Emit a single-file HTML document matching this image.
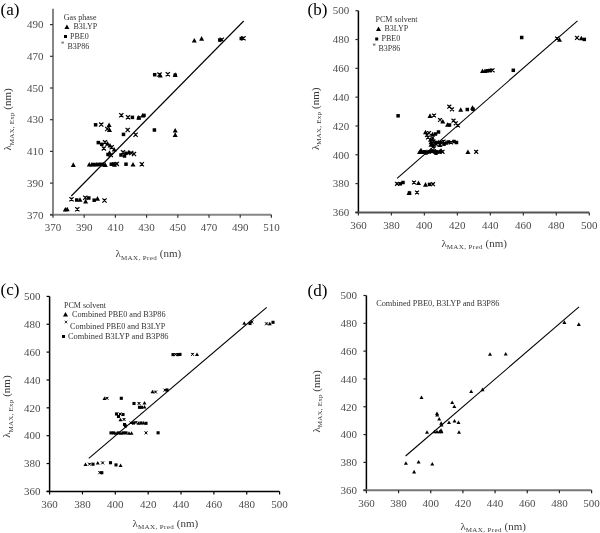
<!DOCTYPE html>
<html><head><meta charset="utf-8"><style>
html,body{margin:0;padding:0;background:#fff;}
body{width:600px;height:533px;overflow:hidden;}
svg{display:block;font-family:"Liberation Serif", serif;filter:grayscale(1) blur(0.3px);}
</style></head><body>
<svg width="600" height="533" viewBox="0 0 600 533">
<rect width="600" height="533" fill="#fff"/>
<line x1="53.00" y1="8.75" x2="53.00" y2="214.80" stroke="#868686" stroke-width="2"/>
<line x1="50.00" y1="214.80" x2="271.40" y2="214.80" stroke="#868686" stroke-width="2"/>
<line x1="50.00" y1="214.80" x2="53.00" y2="214.80" stroke="#333" stroke-width="1.2"/>
<text x="43.60" y="218.54" font-size="11" text-anchor="end" fill="#4c4c4c" >370</text>
<line x1="50.00" y1="183.10" x2="53.00" y2="183.10" stroke="#333" stroke-width="1.2"/>
<text x="43.60" y="186.84" font-size="11" text-anchor="end" fill="#4c4c4c" >390</text>
<line x1="50.00" y1="151.40" x2="53.00" y2="151.40" stroke="#333" stroke-width="1.2"/>
<text x="43.60" y="155.14" font-size="11" text-anchor="end" fill="#4c4c4c" >410</text>
<line x1="50.00" y1="119.70" x2="53.00" y2="119.70" stroke="#333" stroke-width="1.2"/>
<text x="43.60" y="123.44" font-size="11" text-anchor="end" fill="#4c4c4c" >430</text>
<line x1="50.00" y1="88.00" x2="53.00" y2="88.00" stroke="#333" stroke-width="1.2"/>
<text x="43.60" y="91.74" font-size="11" text-anchor="end" fill="#4c4c4c" >450</text>
<line x1="50.00" y1="56.30" x2="53.00" y2="56.30" stroke="#333" stroke-width="1.2"/>
<text x="43.60" y="60.04" font-size="11" text-anchor="end" fill="#4c4c4c" >470</text>
<line x1="50.00" y1="24.60" x2="53.00" y2="24.60" stroke="#333" stroke-width="1.2"/>
<text x="43.60" y="28.34" font-size="11" text-anchor="end" fill="#4c4c4c" >490</text>
<line x1="53.00" y1="214.80" x2="53.00" y2="217.80" stroke="#333" stroke-width="1.2"/>
<text x="53.00" y="231.34" font-size="11" text-anchor="middle" fill="#4c4c4c" >370</text>
<line x1="84.20" y1="214.80" x2="84.20" y2="217.80" stroke="#333" stroke-width="1.2"/>
<text x="84.20" y="231.34" font-size="11" text-anchor="middle" fill="#4c4c4c" >390</text>
<line x1="115.40" y1="214.80" x2="115.40" y2="217.80" stroke="#333" stroke-width="1.2"/>
<text x="115.40" y="231.34" font-size="11" text-anchor="middle" fill="#4c4c4c" >410</text>
<line x1="146.60" y1="214.80" x2="146.60" y2="217.80" stroke="#333" stroke-width="1.2"/>
<text x="146.60" y="231.34" font-size="11" text-anchor="middle" fill="#4c4c4c" >430</text>
<line x1="177.80" y1="214.80" x2="177.80" y2="217.80" stroke="#333" stroke-width="1.2"/>
<text x="177.80" y="231.34" font-size="11" text-anchor="middle" fill="#4c4c4c" >450</text>
<line x1="209.00" y1="214.80" x2="209.00" y2="217.80" stroke="#333" stroke-width="1.2"/>
<text x="209.00" y="231.34" font-size="11" text-anchor="middle" fill="#4c4c4c" >470</text>
<line x1="240.20" y1="214.80" x2="240.20" y2="217.80" stroke="#333" stroke-width="1.2"/>
<text x="240.20" y="231.34" font-size="11" text-anchor="middle" fill="#4c4c4c" >490</text>
<line x1="271.40" y1="214.80" x2="271.40" y2="217.80" stroke="#333" stroke-width="1.2"/>
<text x="271.40" y="231.34" font-size="11" text-anchor="middle" fill="#4c4c4c" >510</text>
<line x1="71.3" y1="196" x2="243.7" y2="21" stroke="#000" stroke-width="1.1"/>
<path d="M191.80 42.60L194.30 38.00L196.80 42.60Z" fill="#000"/>
<path d="M199.10 40.70L201.60 36.10L204.10 40.70Z" fill="#000"/>
<rect x="218.05" y="38.25" width="3.50" height="3.50" fill="#000"/>
<path d="M219.70 37.70L223.90 41.90M223.90 37.70L219.70 41.90M220.75 38.85L222.85 38.85M221.80 38.75L221.80 40.43" stroke="#000" stroke-width="1.2" fill="none"/>
<rect x="239.55" y="36.75" width="3.50" height="3.50" fill="#000"/>
<path d="M241.40 36.20L245.60 40.40M245.60 36.20L241.40 40.40M242.45 37.35L244.55 37.35M243.50 37.25L243.50 38.93" stroke="#000" stroke-width="1.2" fill="none"/>
<rect x="152.95" y="72.95" width="3.50" height="3.50" fill="#000"/>
<path d="M157.80 77.60L160.30 73.00L162.80 77.60Z" fill="#000"/>
<path d="M157.40 72.50L161.60 76.70M161.60 72.50L157.40 76.70M158.45 73.66L160.55 73.66M159.50 73.55L159.50 75.23" stroke="#000" stroke-width="1.2" fill="none"/>
<path d="M165.70 72.20L169.90 76.40M169.90 72.20L165.70 76.40M166.75 73.36L168.85 73.36M167.80 73.25L167.80 74.93" stroke="#000" stroke-width="1.2" fill="none"/>
<path d="M172.70 76.90L175.20 72.30L177.70 76.90Z" fill="#000"/>
<rect x="173.45" y="73.45" width="3.50" height="3.50" fill="#000"/>
<path d="M119.20 113.10L123.40 117.30M123.40 113.10L119.20 117.30M120.25 114.26L122.35 114.26M121.30 114.15L121.30 115.83" stroke="#000" stroke-width="1.2" fill="none"/>
<path d="M125.90 115.10L130.10 119.30M130.10 115.10L125.90 119.30M126.95 116.26L129.05 116.26M128.00 116.15L128.00 117.83" stroke="#000" stroke-width="1.2" fill="none"/>
<rect x="130.65" y="115.65" width="3.50" height="3.50" fill="#000"/>
<path d="M136.20 119.60L138.70 115.00L141.20 119.60Z" fill="#000"/>
<rect x="137.15" y="116.25" width="3.50" height="3.50" fill="#000"/>
<path d="M140.10 117.60L142.60 113.00L145.10 117.60Z" fill="#000"/>
<rect x="142.25" y="113.65" width="3.50" height="3.50" fill="#000"/>
<rect x="93.85" y="123.05" width="3.50" height="3.50" fill="#000"/>
<path d="M99.15 122.50L103.35 126.70M103.35 122.50L99.15 126.70M100.20 123.66L102.30 123.66M101.25 123.55L101.25 125.23" stroke="#000" stroke-width="1.2" fill="none"/>
<path d="M106.60 127.00L109.10 122.40L111.60 127.00Z" fill="#000"/>
<path d="M107.00 131.90L109.50 127.30L112.00 131.90Z" fill="#000"/>
<path d="M105.20 126.90L109.40 131.10M109.40 126.90L105.20 131.10M106.25 128.06L108.35 128.06M107.30 127.95L107.30 129.63" stroke="#000" stroke-width="1.2" fill="none"/>
<rect x="121.75" y="132.65" width="3.50" height="3.50" fill="#000"/>
<path d="M125.60 127.90L129.80 132.10M129.80 127.90L125.60 132.10M126.65 129.06L128.75 129.06M127.70 128.95L127.70 130.63" stroke="#000" stroke-width="1.2" fill="none"/>
<path d="M133.50 132.70L137.70 136.90M137.70 132.70L133.50 136.90M134.55 133.86L136.65 133.86M135.60 133.75L135.60 135.43" stroke="#000" stroke-width="1.2" fill="none"/>
<rect x="152.65" y="128.25" width="3.50" height="3.50" fill="#000"/>
<path d="M172.70 132.50L175.20 127.90L177.70 132.50Z" fill="#000"/>
<path d="M172.70 136.90L175.20 132.30L177.70 136.90Z" fill="#000"/>
<rect x="96.55" y="140.85" width="3.50" height="3.50" fill="#000"/>
<rect x="99.95" y="142.55" width="3.50" height="3.50" fill="#000"/>
<path d="M102.90 140.10L107.10 144.30M107.10 140.10L102.90 144.30M103.95 141.25L106.05 141.25M105.00 141.15L105.00 142.83" stroke="#000" stroke-width="1.2" fill="none"/>
<path d="M105.00 145.70L107.50 141.10L110.00 145.70Z" fill="#000"/>
<path d="M107.50 147.50L110.00 142.90L112.50 147.50Z" fill="#000"/>
<path d="M109.60 145.10L113.80 149.30M113.80 145.10L109.60 149.30M110.65 146.25L112.75 146.25M111.70 146.15L111.70 147.83" stroke="#000" stroke-width="1.2" fill="none"/>
<path d="M111.70 151.60L114.20 147.00L116.70 151.60Z" fill="#000"/>
<path d="M101.70 146.30L105.90 150.50M105.90 146.30L101.70 150.50M102.75 147.46L104.85 147.46M103.80 147.35L103.80 149.03" stroke="#000" stroke-width="1.2" fill="none"/>
<rect x="106.25" y="152.75" width="3.50" height="3.50" fill="#000"/>
<path d="M108.70 152.90L112.90 157.10M112.90 152.90L108.70 157.10M109.75 154.06L111.85 154.06M110.80 153.95L110.80 155.63" stroke="#000" stroke-width="1.2" fill="none"/>
<path d="M107.00 154.80L109.50 150.20L112.00 154.80Z" fill="#000"/>
<rect x="119.25" y="153.25" width="3.50" height="3.50" fill="#000"/>
<path d="M120.90 150.10L125.10 154.30M125.10 150.10L120.90 154.30M121.95 151.25L124.05 151.25M123.00 151.15L123.00 152.83" stroke="#000" stroke-width="1.2" fill="none"/>
<rect x="124.25" y="151.55" width="3.50" height="3.50" fill="#000"/>
<path d="M126.30 154.30L128.80 149.70L131.30 154.30Z" fill="#000"/>
<path d="M129.10 150.90L133.30 155.10M133.30 150.90L129.10 155.10M130.15 152.06L132.25 152.06M131.20 151.95L131.20 153.63" stroke="#000" stroke-width="1.2" fill="none"/>
<path d="M131.90 151.90L136.10 156.10M136.10 151.90L131.90 156.10M132.95 153.06L135.05 153.06M134.00 152.95L134.00 154.63" stroke="#000" stroke-width="1.2" fill="none"/>
<rect x="122.75" y="154.25" width="3.50" height="3.50" fill="#000"/>
<path d="M70.80 166.90L73.30 162.30L75.80 166.90Z" fill="#000"/>
<path d="M86.80 166.60L89.30 162.00L91.80 166.60Z" fill="#000"/>
<path d="M89.30 166.60L91.80 162.00L94.30 166.60Z" fill="#000"/>
<rect x="92.25" y="162.75" width="3.50" height="3.50" fill="#000"/>
<path d="M93.80 166.50L96.30 161.90L98.80 166.50Z" fill="#000"/>
<rect x="97.05" y="162.65" width="3.50" height="3.50" fill="#000"/>
<rect x="99.45" y="162.55" width="3.50" height="3.50" fill="#000"/>
<path d="M101.00 166.40L103.50 161.80L106.00 166.40Z" fill="#000"/>
<path d="M102.80 166.90L105.30 162.30L107.80 166.90Z" fill="#000"/>
<rect x="109.55" y="162.45" width="3.50" height="3.50" fill="#000"/>
<rect x="112.05" y="162.25" width="3.50" height="3.50" fill="#000"/>
<path d="M114.70 161.80L118.90 166.00M118.90 161.80L114.70 166.00M115.75 162.96L117.85 162.96M116.80 162.85L116.80 164.53" stroke="#000" stroke-width="1.2" fill="none"/>
<path d="M112.00 166.80L114.50 162.20L117.00 166.80Z" fill="#000"/>
<rect x="124.25" y="162.45" width="3.50" height="3.50" fill="#000"/>
<path d="M130.50 166.50L133.00 161.90L135.50 166.50Z" fill="#000"/>
<path d="M139.70 162.10L143.90 166.30M143.90 162.10L139.70 166.30M140.75 163.25L142.85 163.25M141.80 163.15L141.80 164.83" stroke="#000" stroke-width="1.2" fill="none"/>
<path d="M69.40 197.20L73.60 201.40M73.60 197.20L69.40 201.40M70.45 198.36L72.55 198.36M71.50 198.25L71.50 199.93" stroke="#000" stroke-width="1.2" fill="none"/>
<rect x="74.95" y="198.25" width="3.50" height="3.50" fill="#000"/>
<path d="M77.50 201.80L80.00 197.20L82.50 201.80Z" fill="#000"/>
<path d="M83.20 195.70L87.40 199.90M87.40 195.70L83.20 199.90M84.25 196.86L86.35 196.86M85.30 196.75L85.30 198.43" stroke="#000" stroke-width="1.2" fill="none"/>
<rect x="87.05" y="196.25" width="3.50" height="3.50" fill="#000"/>
<path d="M83.10 203.40L85.60 198.80L88.10 203.40Z" fill="#000"/>
<rect x="92.45" y="198.45" width="3.50" height="3.50" fill="#000"/>
<path d="M95.00 200.70L97.50 196.10L100.00 200.70Z" fill="#000"/>
<path d="M102.40 198.40L106.60 202.60M106.60 198.40L102.40 202.60M103.45 199.56L105.55 199.56M104.50 199.45L104.50 201.13" stroke="#000" stroke-width="1.2" fill="none"/>
<path d="M62.80 211.60L65.30 207.00L67.80 211.60Z" fill="#000"/>
<path d="M64.70 211.30L67.20 206.70L69.70 211.30Z" fill="#000"/>
<path d="M75.20 207.20L79.40 211.40M79.40 207.20L75.20 211.40M76.25 208.36L78.35 208.36M77.30 208.25L77.30 209.93" stroke="#000" stroke-width="1.2" fill="none"/>
<line x1="358.40" y1="10.70" x2="358.40" y2="212.40" stroke="#000" stroke-width="1.5"/>
<line x1="355.40" y1="212.40" x2="589.30" y2="212.40" stroke="#555" stroke-width="2"/>
<line x1="355.40" y1="212.40" x2="358.40" y2="212.40" stroke="#333" stroke-width="1.2"/>
<text x="349.20" y="216.14" font-size="11" text-anchor="end" fill="#4c4c4c" >360</text>
<line x1="355.40" y1="183.59" x2="358.40" y2="183.59" stroke="#333" stroke-width="1.2"/>
<text x="349.20" y="187.33" font-size="11" text-anchor="end" fill="#4c4c4c" >380</text>
<line x1="355.40" y1="154.77" x2="358.40" y2="154.77" stroke="#333" stroke-width="1.2"/>
<text x="349.20" y="158.51" font-size="11" text-anchor="end" fill="#4c4c4c" >400</text>
<line x1="355.40" y1="125.96" x2="358.40" y2="125.96" stroke="#333" stroke-width="1.2"/>
<text x="349.20" y="129.70" font-size="11" text-anchor="end" fill="#4c4c4c" >420</text>
<line x1="355.40" y1="97.14" x2="358.40" y2="97.14" stroke="#333" stroke-width="1.2"/>
<text x="349.20" y="100.88" font-size="11" text-anchor="end" fill="#4c4c4c" >440</text>
<line x1="355.40" y1="68.33" x2="358.40" y2="68.33" stroke="#333" stroke-width="1.2"/>
<text x="349.20" y="72.07" font-size="11" text-anchor="end" fill="#4c4c4c" >460</text>
<line x1="355.40" y1="39.51" x2="358.40" y2="39.51" stroke="#333" stroke-width="1.2"/>
<text x="349.20" y="43.25" font-size="11" text-anchor="end" fill="#4c4c4c" >480</text>
<line x1="355.40" y1="10.70" x2="358.40" y2="10.70" stroke="#333" stroke-width="1.2"/>
<text x="349.20" y="14.44" font-size="11" text-anchor="end" fill="#4c4c4c" >500</text>
<line x1="358.40" y1="212.40" x2="358.40" y2="215.40" stroke="#333" stroke-width="1.2"/>
<text x="358.40" y="228.74" font-size="11" text-anchor="middle" fill="#4c4c4c" >360</text>
<line x1="391.39" y1="212.40" x2="391.39" y2="215.40" stroke="#333" stroke-width="1.2"/>
<text x="391.39" y="228.74" font-size="11" text-anchor="middle" fill="#4c4c4c" >380</text>
<line x1="424.37" y1="212.40" x2="424.37" y2="215.40" stroke="#333" stroke-width="1.2"/>
<text x="424.37" y="228.74" font-size="11" text-anchor="middle" fill="#4c4c4c" >400</text>
<line x1="457.36" y1="212.40" x2="457.36" y2="215.40" stroke="#333" stroke-width="1.2"/>
<text x="457.36" y="228.74" font-size="11" text-anchor="middle" fill="#4c4c4c" >420</text>
<line x1="490.34" y1="212.40" x2="490.34" y2="215.40" stroke="#333" stroke-width="1.2"/>
<text x="490.34" y="228.74" font-size="11" text-anchor="middle" fill="#4c4c4c" >440</text>
<line x1="523.33" y1="212.40" x2="523.33" y2="215.40" stroke="#333" stroke-width="1.2"/>
<text x="523.33" y="228.74" font-size="11" text-anchor="middle" fill="#4c4c4c" >460</text>
<line x1="556.31" y1="212.40" x2="556.31" y2="215.40" stroke="#333" stroke-width="1.2"/>
<text x="556.31" y="228.74" font-size="11" text-anchor="middle" fill="#4c4c4c" >480</text>
<line x1="589.30" y1="212.40" x2="589.30" y2="215.40" stroke="#333" stroke-width="1.2"/>
<text x="589.30" y="228.74" font-size="11" text-anchor="middle" fill="#4c4c4c" >500</text>
<line x1="397.1" y1="178.3" x2="577.5" y2="20.8" stroke="#000" stroke-width="1.1"/>
<rect x="519.95" y="35.75" width="3.50" height="3.50" fill="#000"/>
<path d="M555.05 36.55L558.95 40.45M558.95 36.55L555.05 40.45M556.02 37.62L557.98 37.62M557.00 37.52L557.00 39.09" stroke="#000" stroke-width="1.15" fill="none"/>
<path d="M557.00 41.80L559.50 37.20L562.00 41.80Z" fill="#000"/>
<path d="M575.05 35.95L578.95 39.85M578.95 35.95L575.05 39.85M576.02 37.02L577.98 37.02M577.00 36.92L577.00 38.48" stroke="#000" stroke-width="1.15" fill="none"/>
<path d="M578.80 40.30L581.30 35.70L583.80 40.30Z" fill="#000"/>
<rect x="582.55" y="37.65" width="3.50" height="3.50" fill="#000"/>
<path d="M480.00 73.10L482.50 68.50L485.00 73.10Z" fill="#000"/>
<path d="M482.50 73.10L485.00 68.50L487.50 73.10Z" fill="#000"/>
<rect x="485.75" y="69.05" width="3.50" height="3.50" fill="#000"/>
<rect x="488.25" y="68.75" width="3.50" height="3.50" fill="#000"/>
<path d="M490.55 68.35L494.45 72.25M494.45 68.35L490.55 72.25M491.52 69.42L493.48 69.42M492.50 69.33L492.50 70.88" stroke="#000" stroke-width="1.15" fill="none"/>
<rect x="511.55" y="68.55" width="3.50" height="3.50" fill="#000"/>
<path d="M447.35 104.75L451.25 108.65M451.25 104.75L447.35 108.65M448.32 105.82L450.28 105.82M449.30 105.73L449.30 107.28" stroke="#000" stroke-width="1.15" fill="none"/>
<path d="M450.05 107.35L453.95 111.25M453.95 107.35L450.05 111.25M451.02 108.42L452.98 108.42M452.00 108.33L452.00 109.88" stroke="#000" stroke-width="1.15" fill="none"/>
<path d="M458.20 111.80L460.70 107.20L463.20 111.80Z" fill="#000"/>
<rect x="465.55" y="107.75" width="3.50" height="3.50" fill="#000"/>
<path d="M470.00 109.80L472.50 105.20L475.00 109.80Z" fill="#000"/>
<rect x="471.25" y="107.55" width="3.50" height="3.50" fill="#000"/>
<rect x="396.35" y="114.05" width="3.50" height="3.50" fill="#000"/>
<path d="M427.50 117.90L430.00 113.30L432.50 117.90Z" fill="#000"/>
<path d="M432.05 113.55L435.95 117.45M435.95 113.55L432.05 117.45M433.02 114.62L434.98 114.62M434.00 114.53L434.00 116.08" stroke="#000" stroke-width="1.15" fill="none"/>
<path d="M438.05 118.05L441.95 121.95M441.95 118.05L438.05 121.95M439.02 119.12L440.98 119.12M440.00 119.03L440.00 120.58" stroke="#000" stroke-width="1.15" fill="none"/>
<path d="M440.30 123.50L442.80 118.90L445.30 123.50Z" fill="#000"/>
<path d="M445.00 126.80L447.50 122.20L450.00 126.80Z" fill="#000"/>
<rect x="447.75" y="123.25" width="3.50" height="3.50" fill="#000"/>
<path d="M451.55 118.75L455.45 122.65M455.45 118.75L451.55 122.65M452.52 119.82L454.48 119.82M453.50 119.73L453.50 121.28" stroke="#000" stroke-width="1.15" fill="none"/>
<path d="M453.85 121.35L457.75 125.25M457.75 121.35L453.85 125.25M454.82 122.42L456.78 122.42M455.80 122.33L455.80 123.88" stroke="#000" stroke-width="1.15" fill="none"/>
<path d="M456.05 123.55L459.95 127.45M459.95 123.55L456.05 127.45M457.02 124.62L458.98 124.62M458.00 124.53L458.00 126.08" stroke="#000" stroke-width="1.15" fill="none"/>
<path d="M423.00 134.30L425.50 129.70L428.00 134.30Z" fill="#000"/>
<path d="M427.05 131.05L430.95 134.95M430.95 131.05L427.05 134.95M428.02 132.12L429.98 132.12M429.00 132.03L429.00 133.59" stroke="#000" stroke-width="1.15" fill="none"/>
<path d="M425.05 133.05L428.95 136.95M428.95 133.05L425.05 136.95M426.02 134.12L427.98 134.12M427.00 134.03L427.00 135.59" stroke="#000" stroke-width="1.15" fill="none"/>
<path d="M430.00 136.30L432.50 131.70L435.00 136.30Z" fill="#000"/>
<rect x="433.75" y="132.25" width="3.50" height="3.50" fill="#000"/>
<rect x="436.75" y="130.25" width="3.50" height="3.50" fill="#000"/>
<path d="M426.05 135.55L429.95 139.45M429.95 135.55L426.05 139.45M427.02 136.62L428.98 136.62M428.00 136.53L428.00 138.09" stroke="#000" stroke-width="1.15" fill="none"/>
<path d="M430.55 136.05L434.45 139.95M434.45 136.05L430.55 139.95M431.52 137.12L433.48 137.12M432.50 137.03L432.50 138.59" stroke="#000" stroke-width="1.15" fill="none"/>
<path d="M428.50 144.30L431.00 139.70L433.50 144.30Z" fill="#000"/>
<path d="M431.55 139.55L435.45 143.45M435.45 139.55L431.55 143.45M432.52 140.62L434.48 140.62M433.50 140.53L433.50 142.09" stroke="#000" stroke-width="1.15" fill="none"/>
<rect x="434.25" y="140.75" width="3.50" height="3.50" fill="#000"/>
<path d="M436.00 144.30L438.50 139.70L441.00 144.30Z" fill="#000"/>
<rect x="439.25" y="140.75" width="3.50" height="3.50" fill="#000"/>
<path d="M441.55 139.55L445.45 143.45M445.45 139.55L441.55 143.45M442.52 140.62L444.48 140.62M443.50 140.53L443.50 142.09" stroke="#000" stroke-width="1.15" fill="none"/>
<path d="M443.50 144.80L446.00 140.20L448.50 144.80Z" fill="#000"/>
<rect x="446.75" y="140.25" width="3.50" height="3.50" fill="#000"/>
<path d="M449.05 140.55L452.95 144.45M452.95 140.55L449.05 144.45M450.02 141.62L451.98 141.62M451.00 141.53L451.00 143.09" stroke="#000" stroke-width="1.15" fill="none"/>
<rect x="452.25" y="139.75" width="3.50" height="3.50" fill="#000"/>
<rect x="454.75" y="140.75" width="3.50" height="3.50" fill="#000"/>
<path d="M417.00 154.10L419.50 149.50L422.00 154.10Z" fill="#000"/>
<path d="M419.50 154.10L422.00 149.50L424.50 154.10Z" fill="#000"/>
<rect x="422.75" y="150.05" width="3.50" height="3.50" fill="#000"/>
<path d="M424.50 153.80L427.00 149.20L429.50 153.80Z" fill="#000"/>
<rect x="427.75" y="150.05" width="3.50" height="3.50" fill="#000"/>
<path d="M430.05 149.55L433.95 153.45M433.95 149.55L430.05 153.45M431.02 150.62L432.98 150.62M432.00 150.53L432.00 152.09" stroke="#000" stroke-width="1.15" fill="none"/>
<rect x="432.75" y="150.05" width="3.50" height="3.50" fill="#000"/>
<rect x="435.25" y="150.05" width="3.50" height="3.50" fill="#000"/>
<path d="M437.00 153.80L439.50 149.20L442.00 153.80Z" fill="#000"/>
<path d="M440.55 149.85L444.45 153.75M444.45 149.85L440.55 153.75M441.52 150.92L443.48 150.92M442.50 150.83L442.50 152.39" stroke="#000" stroke-width="1.15" fill="none"/>
<path d="M432.05 146.35L435.95 150.25M435.95 146.35L432.05 150.25M433.02 147.42L434.98 147.42M434.00 147.33L434.00 148.89" stroke="#000" stroke-width="1.15" fill="none"/>
<path d="M465.40 154.10L467.90 149.50L470.40 154.10Z" fill="#000"/>
<path d="M474.25 149.85L478.15 153.75M478.15 149.85L474.25 153.75M475.22 150.92L477.18 150.92M476.20 150.83L476.20 152.39" stroke="#000" stroke-width="1.15" fill="none"/>
<path d="M428.50 146.80L431.00 142.20L433.50 146.80Z" fill="#000"/>
<rect x="431.25" y="143.25" width="3.50" height="3.50" fill="#000"/>
<path d="M434.05 142.25L437.95 146.15M437.95 142.25L434.05 146.15M435.02 143.32L436.98 143.32M436.00 143.22L436.00 144.78" stroke="#000" stroke-width="1.15" fill="none"/>
<path d="M437.50 146.90L440.00 142.30L442.50 146.90Z" fill="#000"/>
<rect x="442.25" y="142.45" width="3.50" height="3.50" fill="#000"/>
<path d="M428.00 141.80L430.50 137.20L433.00 141.80Z" fill="#000"/>
<path d="M430.05 138.05L433.95 141.95M433.95 138.05L430.05 141.95M431.02 139.12L432.98 139.12M432.00 139.03L432.00 140.59" stroke="#000" stroke-width="1.15" fill="none"/>
<path d="M418.50 152.30L421.00 147.70L423.50 152.30Z" fill="#000"/>
<rect x="424.25" y="151.25" width="3.50" height="3.50" fill="#000"/>
<path d="M428.50 152.30L431.00 147.70L433.50 152.30Z" fill="#000"/>
<rect x="434.25" y="151.45" width="3.50" height="3.50" fill="#000"/>
<path d="M438.50 152.50L441.00 147.90L443.50 152.50Z" fill="#000"/>
<path d="M395.05 181.85L398.95 185.75M398.95 181.85L395.05 185.75M396.02 182.92L397.98 182.92M397.00 182.83L397.00 184.39" stroke="#000" stroke-width="1.15" fill="none"/>
<rect x="398.55" y="182.05" width="3.50" height="3.50" fill="#000"/>
<rect x="401.25" y="180.75" width="3.50" height="3.50" fill="#000"/>
<path d="M412.05 180.55L415.95 184.45M415.95 180.55L412.05 184.45M413.02 181.62L414.98 181.62M414.00 181.53L414.00 183.09" stroke="#000" stroke-width="1.15" fill="none"/>
<path d="M416.00 185.00L418.50 180.40L421.00 185.00Z" fill="#000"/>
<path d="M423.00 186.70L425.50 182.10L428.00 186.70Z" fill="#000"/>
<rect x="427.75" y="182.65" width="3.50" height="3.50" fill="#000"/>
<path d="M431.05 182.25L434.95 186.15M434.95 182.25L431.05 186.15M432.02 183.32L433.98 183.32M433.00 183.22L433.00 184.78" stroke="#000" stroke-width="1.15" fill="none"/>
<path d="M406.50 195.00L409.00 190.40L411.50 195.00Z" fill="#000"/>
<rect x="407.75" y="191.25" width="3.50" height="3.50" fill="#000"/>
<path d="M415.05 190.55L418.95 194.45M418.95 190.55L415.05 194.45M416.02 191.62L417.98 191.62M417.00 191.53L417.00 193.09" stroke="#000" stroke-width="1.15" fill="none"/>
<line x1="49.60" y1="296.40" x2="49.60" y2="491.40" stroke="#000" stroke-width="1.5"/>
<line x1="46.60" y1="491.40" x2="279.60" y2="491.40" stroke="#000" stroke-width="1.5"/>
<line x1="46.60" y1="491.40" x2="49.60" y2="491.40" stroke="#000" stroke-width="1.2"/>
<text x="40.40" y="495.14" font-size="11" text-anchor="end" fill="#4c4c4c" >360</text>
<line x1="46.60" y1="463.54" x2="49.60" y2="463.54" stroke="#000" stroke-width="1.2"/>
<text x="40.40" y="467.28" font-size="11" text-anchor="end" fill="#4c4c4c" >380</text>
<line x1="46.60" y1="435.69" x2="49.60" y2="435.69" stroke="#000" stroke-width="1.2"/>
<text x="40.40" y="439.43" font-size="11" text-anchor="end" fill="#4c4c4c" >400</text>
<line x1="46.60" y1="407.83" x2="49.60" y2="407.83" stroke="#000" stroke-width="1.2"/>
<text x="40.40" y="411.57" font-size="11" text-anchor="end" fill="#4c4c4c" >420</text>
<line x1="46.60" y1="379.97" x2="49.60" y2="379.97" stroke="#000" stroke-width="1.2"/>
<text x="40.40" y="383.71" font-size="11" text-anchor="end" fill="#4c4c4c" >440</text>
<line x1="46.60" y1="352.11" x2="49.60" y2="352.11" stroke="#000" stroke-width="1.2"/>
<text x="40.40" y="355.85" font-size="11" text-anchor="end" fill="#4c4c4c" >460</text>
<line x1="46.60" y1="324.26" x2="49.60" y2="324.26" stroke="#000" stroke-width="1.2"/>
<text x="40.40" y="328.00" font-size="11" text-anchor="end" fill="#4c4c4c" >480</text>
<line x1="46.60" y1="296.40" x2="49.60" y2="296.40" stroke="#000" stroke-width="1.2"/>
<text x="40.40" y="300.14" font-size="11" text-anchor="end" fill="#4c4c4c" >500</text>
<line x1="49.60" y1="491.40" x2="49.60" y2="494.40" stroke="#000" stroke-width="1.2"/>
<text x="49.60" y="508.44" font-size="11" text-anchor="middle" fill="#4c4c4c" >360</text>
<line x1="82.46" y1="491.40" x2="82.46" y2="494.40" stroke="#000" stroke-width="1.2"/>
<text x="82.46" y="508.44" font-size="11" text-anchor="middle" fill="#4c4c4c" >380</text>
<line x1="115.31" y1="491.40" x2="115.31" y2="494.40" stroke="#000" stroke-width="1.2"/>
<text x="115.31" y="508.44" font-size="11" text-anchor="middle" fill="#4c4c4c" >400</text>
<line x1="148.17" y1="491.40" x2="148.17" y2="494.40" stroke="#000" stroke-width="1.2"/>
<text x="148.17" y="508.44" font-size="11" text-anchor="middle" fill="#4c4c4c" >420</text>
<line x1="181.03" y1="491.40" x2="181.03" y2="494.40" stroke="#000" stroke-width="1.2"/>
<text x="181.03" y="508.44" font-size="11" text-anchor="middle" fill="#4c4c4c" >440</text>
<line x1="213.89" y1="491.40" x2="213.89" y2="494.40" stroke="#000" stroke-width="1.2"/>
<text x="213.89" y="508.44" font-size="11" text-anchor="middle" fill="#4c4c4c" >460</text>
<line x1="246.74" y1="491.40" x2="246.74" y2="494.40" stroke="#000" stroke-width="1.2"/>
<text x="246.74" y="508.44" font-size="11" text-anchor="middle" fill="#4c4c4c" >480</text>
<line x1="279.60" y1="491.40" x2="279.60" y2="494.40" stroke="#000" stroke-width="1.2"/>
<text x="279.60" y="508.44" font-size="11" text-anchor="middle" fill="#4c4c4c" >500</text>
<line x1="88.8" y1="458.3" x2="266.7" y2="307.3" stroke="#000" stroke-width="1.1"/>
<rect x="171.45" y="353.05" width="3.10" height="3.10" fill="#000"/>
<path d="M174.00 353.10L177.00 356.10M177.00 353.10L174.00 356.10M174.75 353.93L176.25 353.93M175.50 353.85L175.50 355.05" stroke="#000" stroke-width="1.0" fill="none"/>
<rect x="176.45" y="353.05" width="3.10" height="3.10" fill="#000"/>
<rect x="178.45" y="352.85" width="3.10" height="3.10" fill="#000"/>
<path d="M191.00 352.90L194.00 355.90M194.00 352.90L191.00 355.90M191.75 353.72L193.25 353.72M192.50 353.65L192.50 354.85" stroke="#000" stroke-width="1.0" fill="none"/>
<path d="M195.00 355.95L197.00 352.45L199.00 355.95Z" fill="#000"/>
<path d="M242.30 324.75L244.30 321.25L246.30 324.75Z" fill="#000"/>
<rect x="248.45" y="321.95" width="3.10" height="3.10" fill="#000"/>
<path d="M250.30 320.50L253.30 323.50M253.30 320.50L250.30 323.50M251.05 321.32L252.55 321.32M251.80 321.25L251.80 322.45" stroke="#000" stroke-width="1.0" fill="none"/>
<path d="M265.00 322.30L268.00 325.30M268.00 322.30L265.00 325.30M265.75 323.12L267.25 323.12M266.50 323.05L266.50 324.25" stroke="#000" stroke-width="1.0" fill="none"/>
<path d="M267.80 325.25L269.80 321.75L271.80 325.25Z" fill="#000"/>
<rect x="271.45" y="320.75" width="3.10" height="3.10" fill="#000"/>
<path d="M102.50 400.05L104.50 396.55L106.50 400.05Z" fill="#000"/>
<path d="M105.50 396.80L108.50 399.80M108.50 396.80L105.50 399.80M106.25 397.62L107.75 397.62M107.00 397.55L107.00 398.75" stroke="#000" stroke-width="1.0" fill="none"/>
<rect x="119.75" y="396.75" width="3.10" height="3.10" fill="#000"/>
<path d="M150.50 393.25L152.50 389.75L154.50 393.25Z" fill="#000"/>
<path d="M154.00 390.50L157.00 393.50M157.00 390.50L154.00 393.50M154.75 391.32L156.25 391.32M155.50 391.25L155.50 392.45" stroke="#000" stroke-width="1.0" fill="none"/>
<path d="M163.50 388.70L166.50 391.70M166.50 388.70L163.50 391.70M164.25 389.52L165.75 389.52M165.00 389.45L165.00 390.65" stroke="#000" stroke-width="1.0" fill="none"/>
<rect x="165.45" y="388.45" width="3.10" height="3.10" fill="#000"/>
<rect x="132.45" y="401.95" width="3.10" height="3.10" fill="#000"/>
<path d="M137.50 402.00L140.50 405.00M140.50 402.00L137.50 405.00M138.25 402.82L139.75 402.82M139.00 402.75L139.00 403.95" stroke="#000" stroke-width="1.0" fill="none"/>
<path d="M142.50 404.55L144.50 401.05L146.50 404.55Z" fill="#000"/>
<rect x="137.95" y="405.75" width="3.10" height="3.10" fill="#000"/>
<rect x="139.95" y="405.75" width="3.10" height="3.10" fill="#000"/>
<path d="M142.50 408.55L144.50 405.05L146.50 408.55Z" fill="#000"/>
<rect x="114.95" y="412.45" width="3.10" height="3.10" fill="#000"/>
<path d="M118.50 412.50L121.50 415.50M121.50 412.50L118.50 415.50M119.25 413.32L120.75 413.32M120.00 413.25L120.00 414.45" stroke="#000" stroke-width="1.0" fill="none"/>
<rect x="121.45" y="412.95" width="3.10" height="3.10" fill="#000"/>
<rect x="116.95" y="414.95" width="3.10" height="3.10" fill="#000"/>
<path d="M118.50 421.25L120.50 417.75L122.50 421.25Z" fill="#000"/>
<path d="M122.50 418.00L125.50 421.00M125.50 418.00L122.50 421.00M123.25 418.82L124.75 418.82M124.00 418.75L124.00 419.95" stroke="#000" stroke-width="1.0" fill="none"/>
<rect x="122.95" y="422.95" width="3.10" height="3.10" fill="#000"/>
<rect x="123.95" y="424.45" width="3.10" height="3.10" fill="#000"/>
<path d="M129.50 421.50L132.50 424.50M132.50 421.50L129.50 424.50M130.25 422.32L131.75 422.32M131.00 422.25L131.00 423.45" stroke="#000" stroke-width="1.0" fill="none"/>
<rect x="131.95" y="421.45" width="3.10" height="3.10" fill="#000"/>
<path d="M134.50 421.00L137.50 424.00M137.50 421.00L134.50 424.00M135.25 421.82L136.75 421.82M136.00 421.75L136.00 422.95" stroke="#000" stroke-width="1.0" fill="none"/>
<path d="M136.50 424.75L138.50 421.25L140.50 424.75Z" fill="#000"/>
<rect x="139.45" y="421.45" width="3.10" height="3.10" fill="#000"/>
<path d="M141.50 424.55L143.50 421.05L145.50 424.55Z" fill="#000"/>
<rect x="144.45" y="421.75" width="3.10" height="3.10" fill="#000"/>
<rect x="109.45" y="431.35" width="3.10" height="3.10" fill="#000"/>
<rect x="111.95" y="431.35" width="3.10" height="3.10" fill="#000"/>
<path d="M114.00 434.65L116.00 431.15L118.00 434.65Z" fill="#000"/>
<rect x="116.95" y="431.35" width="3.10" height="3.10" fill="#000"/>
<path d="M119.00 434.65L121.00 431.15L123.00 434.65Z" fill="#000"/>
<rect x="121.95" y="431.35" width="3.10" height="3.10" fill="#000"/>
<rect x="124.45" y="431.35" width="3.10" height="3.10" fill="#000"/>
<path d="M127.00 434.65L129.00 431.15L131.00 434.65Z" fill="#000"/>
<path d="M129.50 434.65L131.50 431.15L133.50 434.65Z" fill="#000"/>
<path d="M144.50 431.40L147.50 434.40M147.50 431.40L144.50 434.40M145.25 432.22L146.75 432.22M146.00 432.15L146.00 433.35" stroke="#000" stroke-width="1.0" fill="none"/>
<rect x="156.55" y="431.25" width="3.10" height="3.10" fill="#000"/>
<path d="M83.50 465.95L85.50 462.45L87.50 465.95Z" fill="#000"/>
<path d="M88.00 462.70L91.00 465.70M91.00 462.70L88.00 465.70M88.75 463.52L90.25 463.52M89.50 463.45L89.50 464.65" stroke="#000" stroke-width="1.0" fill="none"/>
<rect x="91.45" y="462.65" width="3.10" height="3.10" fill="#000"/>
<path d="M95.75 464.50L97.75 461.00L99.75 464.50Z" fill="#000"/>
<path d="M101.10 461.40L104.10 464.40M104.10 461.40L101.10 464.40M101.85 462.22L103.35 462.22M102.60 462.15L102.60 463.35" stroke="#000" stroke-width="1.0" fill="none"/>
<rect x="108.95" y="461.20" width="3.10" height="3.10" fill="#000"/>
<rect x="114.45" y="463.35" width="3.10" height="3.10" fill="#000"/>
<path d="M118.60 467.00L120.60 463.50L122.60 467.00Z" fill="#000"/>
<path d="M98.30 471.20L101.30 474.20M101.30 471.20L98.30 474.20M99.05 472.02L100.55 472.02M99.80 471.95L99.80 473.15" stroke="#000" stroke-width="1.0" fill="none"/>
<rect x="100.25" y="471.15" width="3.10" height="3.10" fill="#000"/>
<line x1="366.40" y1="295.50" x2="366.40" y2="490.20" stroke="#000" stroke-width="1.5"/>
<line x1="363.40" y1="490.20" x2="591.60" y2="490.20" stroke="#777" stroke-width="2"/>
<line x1="363.40" y1="490.20" x2="366.40" y2="490.20" stroke="#222" stroke-width="1.2"/>
<text x="357.00" y="493.94" font-size="11" text-anchor="end" fill="#4c4c4c" >360</text>
<line x1="363.40" y1="462.39" x2="366.40" y2="462.39" stroke="#222" stroke-width="1.2"/>
<text x="357.00" y="466.13" font-size="11" text-anchor="end" fill="#4c4c4c" >380</text>
<line x1="363.40" y1="434.57" x2="366.40" y2="434.57" stroke="#222" stroke-width="1.2"/>
<text x="357.00" y="438.31" font-size="11" text-anchor="end" fill="#4c4c4c" >400</text>
<line x1="363.40" y1="406.76" x2="366.40" y2="406.76" stroke="#222" stroke-width="1.2"/>
<text x="357.00" y="410.50" font-size="11" text-anchor="end" fill="#4c4c4c" >420</text>
<line x1="363.40" y1="378.94" x2="366.40" y2="378.94" stroke="#222" stroke-width="1.2"/>
<text x="357.00" y="382.68" font-size="11" text-anchor="end" fill="#4c4c4c" >440</text>
<line x1="363.40" y1="351.13" x2="366.40" y2="351.13" stroke="#222" stroke-width="1.2"/>
<text x="357.00" y="354.87" font-size="11" text-anchor="end" fill="#4c4c4c" >460</text>
<line x1="363.40" y1="323.31" x2="366.40" y2="323.31" stroke="#222" stroke-width="1.2"/>
<text x="357.00" y="327.05" font-size="11" text-anchor="end" fill="#4c4c4c" >480</text>
<line x1="363.40" y1="295.50" x2="366.40" y2="295.50" stroke="#222" stroke-width="1.2"/>
<text x="357.00" y="299.24" font-size="11" text-anchor="end" fill="#4c4c4c" >500</text>
<line x1="366.40" y1="490.20" x2="366.40" y2="493.20" stroke="#222" stroke-width="1.2"/>
<text x="366.40" y="506.94" font-size="11" text-anchor="middle" fill="#4c4c4c" >360</text>
<line x1="398.57" y1="490.20" x2="398.57" y2="493.20" stroke="#222" stroke-width="1.2"/>
<text x="398.57" y="506.94" font-size="11" text-anchor="middle" fill="#4c4c4c" >380</text>
<line x1="430.74" y1="490.20" x2="430.74" y2="493.20" stroke="#222" stroke-width="1.2"/>
<text x="430.74" y="506.94" font-size="11" text-anchor="middle" fill="#4c4c4c" >400</text>
<line x1="462.91" y1="490.20" x2="462.91" y2="493.20" stroke="#222" stroke-width="1.2"/>
<text x="462.91" y="506.94" font-size="11" text-anchor="middle" fill="#4c4c4c" >420</text>
<line x1="495.09" y1="490.20" x2="495.09" y2="493.20" stroke="#222" stroke-width="1.2"/>
<text x="495.09" y="506.94" font-size="11" text-anchor="middle" fill="#4c4c4c" >440</text>
<line x1="527.26" y1="490.20" x2="527.26" y2="493.20" stroke="#222" stroke-width="1.2"/>
<text x="527.26" y="506.94" font-size="11" text-anchor="middle" fill="#4c4c4c" >460</text>
<line x1="559.43" y1="490.20" x2="559.43" y2="493.20" stroke="#222" stroke-width="1.2"/>
<text x="559.43" y="506.94" font-size="11" text-anchor="middle" fill="#4c4c4c" >480</text>
<line x1="591.60" y1="490.20" x2="591.60" y2="493.20" stroke="#222" stroke-width="1.2"/>
<text x="591.60" y="506.94" font-size="11" text-anchor="middle" fill="#4c4c4c" >500</text>
<line x1="405.6" y1="456" x2="579" y2="306.9" stroke="#000" stroke-width="1.1"/>
<path d="M562.40 323.90L564.40 320.30L566.40 323.90Z" fill="#000"/>
<path d="M576.80 325.90L578.80 322.30L580.80 325.90Z" fill="#000"/>
<path d="M488.00 355.80L490.00 352.20L492.00 355.80Z" fill="#000"/>
<path d="M503.70 355.50L505.70 351.90L507.70 355.50Z" fill="#000"/>
<path d="M469.20 393.00L471.20 389.40L473.20 393.00Z" fill="#000"/>
<path d="M480.50 391.20L482.50 387.60L484.50 391.20Z" fill="#000"/>
<path d="M419.50 399.00L421.50 395.40L423.50 399.00Z" fill="#000"/>
<path d="M450.20 404.00L452.20 400.40L454.20 404.00Z" fill="#000"/>
<path d="M452.30 408.00L454.30 404.40L456.30 408.00Z" fill="#000"/>
<path d="M435.00 415.00L437.00 411.40L439.00 415.00Z" fill="#000"/>
<path d="M435.20 416.60L437.20 413.00L439.20 416.60Z" fill="#000"/>
<path d="M437.20 420.60L439.20 417.00L441.20 420.60Z" fill="#000"/>
<path d="M439.20 424.80L441.20 421.20L443.20 424.80Z" fill="#000"/>
<path d="M439.50 426.60L441.50 423.00L443.50 426.60Z" fill="#000"/>
<path d="M447.00 424.10L449.00 420.50L451.00 424.10Z" fill="#000"/>
<path d="M452.50 422.60L454.50 419.00L456.50 422.60Z" fill="#000"/>
<path d="M456.50 424.10L458.50 420.50L460.50 424.10Z" fill="#000"/>
<path d="M425.00 433.80L427.00 430.20L429.00 433.80Z" fill="#000"/>
<path d="M432.50 433.30L434.50 429.70L436.50 433.30Z" fill="#000"/>
<path d="M435.00 433.30L437.00 429.70L439.00 433.30Z" fill="#000"/>
<path d="M437.50 433.30L439.50 429.70L441.50 433.30Z" fill="#000"/>
<path d="M439.50 433.30L441.50 429.70L443.50 433.30Z" fill="#000"/>
<path d="M439.00 431.80L441.00 428.20L443.00 431.80Z" fill="#000"/>
<path d="M457.00 433.80L459.00 430.20L461.00 433.80Z" fill="#000"/>
<path d="M403.90 464.80L405.90 461.20L407.90 464.80Z" fill="#000"/>
<path d="M416.60 463.50L418.60 459.90L420.60 463.50Z" fill="#000"/>
<path d="M430.30 465.50L432.30 461.90L434.30 465.50Z" fill="#000"/>
<path d="M412.10 473.40L414.10 469.80L416.10 473.40Z" fill="#000"/>
<text x="0.50" y="14.80" font-size="17" text-anchor="start" fill="#000" >(a)</text>
<text x="307.50" y="15.00" font-size="17" text-anchor="start" fill="#000" >(b)</text>
<text x="0.50" y="294.80" font-size="17" text-anchor="start" fill="#000" >(c)</text>
<text x="307.50" y="295.60" font-size="17" text-anchor="start" fill="#000" >(d)</text>
<text x="115.60" y="257.30" font-size="11" fill="#3a3a3a">&#955;<tspan font-size="7" dy="2.6" letter-spacing="0.38">MAX, Pred</tspan><tspan dy="-2.6" font-size="11"> (nm)</tspan></text>
<text x="441.40" y="246.70" font-size="11" fill="#3a3a3a">&#955;<tspan font-size="7" dy="2.6" letter-spacing="0.38">MAX, Pred</tspan><tspan dy="-2.6" font-size="11"> (nm)</tspan></text>
<text x="132.60" y="526.70" font-size="11" fill="#3a3a3a">&#955;<tspan font-size="7" dy="2.6" letter-spacing="0.38">MAX, Pred</tspan><tspan dy="-2.6" font-size="11"> (nm)</tspan></text>
<text x="460.40" y="529.70" font-size="11" fill="#3a3a3a">&#955;<tspan font-size="7" dy="2.6" letter-spacing="0.38">MAX, Pred</tspan><tspan dy="-2.6" font-size="11"> (nm)</tspan></text>
<text transform="translate(11.20,150.60) rotate(-90)" font-size="11" fill="#3a3a3a">&#955;<tspan font-size="7" dy="2.4" letter-spacing="0.22">MAX, Exp</tspan><tspan dy="-2.4" font-size="11"> (nm)</tspan></text>
<text transform="translate(318.80,150.00) rotate(-90)" font-size="11" fill="#3a3a3a">&#955;<tspan font-size="7" dy="2.4" letter-spacing="0.22">MAX, Exp</tspan><tspan dy="-2.4" font-size="11"> (nm)</tspan></text>
<text transform="translate(10.40,437.80) rotate(-90)" font-size="11" fill="#3a3a3a">&#955;<tspan font-size="7" dy="2.4" letter-spacing="0.22">MAX, Exp</tspan><tspan dy="-2.4" font-size="11"> (nm)</tspan></text>
<text transform="translate(319.60,432.60) rotate(-90)" font-size="11" fill="#3a3a3a">&#955;<tspan font-size="7" dy="2.4" letter-spacing="0.22">MAX, Exp</tspan><tspan dy="-2.4" font-size="11"> (nm)</tspan></text>
<text x="63.80" y="20.00" font-size="8" text-anchor="start" fill="#333" >Gas phase</text>
<path d="M64.40 29.10L66.90 24.50L69.40 29.10Z" fill="#000"/>
<text x="73.50" y="29.00" font-size="8" text-anchor="start" fill="#333" >B3LYP</text>
<rect x="64.00" y="35.00" width="3.00" height="3.00" fill="#000"/>
<text x="70.00" y="38.50" font-size="8" text-anchor="start" fill="#333" >PBE0</text>
<path d="M61.30 42.60L63.90 42.60M61.82 41.50L63.38 43.70M63.38 41.50L61.82 43.70" stroke="#666" stroke-width="0.8" fill="none"/>
<text x="67.50" y="48.50" font-size="8" text-anchor="start" fill="#333" >B3P86</text>
<text x="375.50" y="21.50" font-size="8" text-anchor="start" fill="#333" >PCM solvent</text>
<path d="M376.00 31.10L378.50 26.50L381.00 31.10Z" fill="#000"/>
<text x="384.50" y="31.20" font-size="8" text-anchor="start" fill="#333" >B3LYP</text>
<rect x="375.20" y="37.50" width="3.00" height="3.00" fill="#000"/>
<text x="381.50" y="40.70" font-size="8" text-anchor="start" fill="#333" >PBE0</text>
<path d="M372.90 44.60L375.50 44.60M373.42 43.50L374.98 45.70M374.98 43.50L373.42 45.70" stroke="#666" stroke-width="0.8" fill="none"/>
<text x="378.50" y="50.50" font-size="8" text-anchor="start" fill="#333" >B3P86</text>
<text x="64.00" y="308.00" font-size="8" text-anchor="start" fill="#333" >PCM solvent</text>
<path d="M63.00 316.60L65.50 312.00L68.00 316.60Z" fill="#000"/>
<text x="72.00" y="317.00" font-size="8.2" text-anchor="start" fill="#333" >Combined PBE0 and B3P86</text>
<path d="M64.7 320.7L67.3 323.3M67.3 320.7L64.7 323.3" stroke="#222" stroke-width="0.9"/>
<text x="70.00" y="329.00" font-size="8.2" text-anchor="start" fill="#333" >Combined PBE0 and B3LYP</text>
<rect x="62.00" y="335.00" width="3.00" height="3.00" fill="#000"/>
<text x="68.00" y="339.00" font-size="8.4" text-anchor="start" fill="#333" >Combined B3LYP and B3P86</text>
<text x="376.20" y="305.90" font-size="8.3" text-anchor="start" fill="#333" >Combined PBE0, B3LYP and B3P86</text>
</svg>
</body></html>
